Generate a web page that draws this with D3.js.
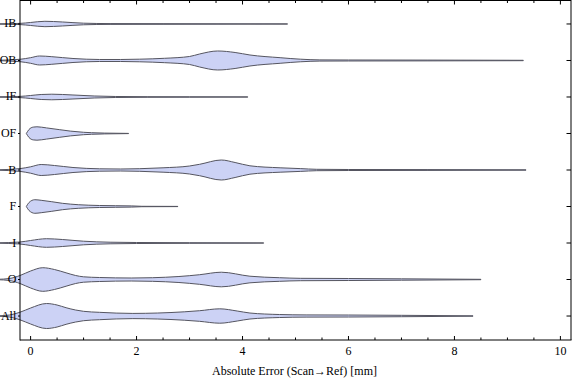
<!DOCTYPE html>
<html>
<head>
<meta charset="utf-8">
<script src="https://cdn.jsdelivr.net/npm/d3@7"></script>
<style>
  html, body { margin: 0; padding: 0; background: #fff; }
  svg { display: block; }
  text { font-family: "Liberation Serif", "Times New Roman", serif; font-size: 12px; fill: #000; }
</style>
</head>
<body>
<svg id="chart" width="576" height="381"></svg>
<script>
// ---- Data ----
const categories = ["IB", "OB", "IF", "OF", "B", "F", "I", "O", "All"];
const xTicks = [0, 2, 4, 6, 8, 10];
const xLabel = "Absolute Error (Scan\u2192Ref) [mm]";

// error values (mm) and estimated relative density for each violin
const IB_err  = [-0.62, -0.2, 0.0, 0.27, 0.6, 1.0, 1.5, 2.5, 3.5, 4.85];
const IB_dens = [0.02, 0.06, 0.15, 0.27, 0.2, 0.08, 0.04, 0.03, 0.02, 0.01];

const OB_err  = [-0.62, -0.2, 0.0, 0.17, 0.4, 0.8, 1.3, 1.7, 2.06, 2.53, 3.0, 3.19, 3.53, 3.86, 4.14, 4.71, 5.09, 5.46, 6.0, 7.5, 9.3];
const OB_dens = [0.02, 0.12, 0.28, 0.45, 0.38, 0.2, 0.1, 0.1, 0.13, 0.22, 0.4, 0.65, 0.95, 0.8, 0.55, 0.28, 0.13, 0.06, 0.05, 0.04, 0.02];

const IF_err  = [-0.62, -0.2, 0.0, 0.2, 0.4, 0.8, 1.2, 1.6, 2.2, 3.0, 4.1];
const IF_dens = [0.02, 0.06, 0.15, 0.25, 0.28, 0.2, 0.1, 0.05, 0.03, 0.02, 0.01];

const OF_err  = [-0.08, -0.03, 0.05, 0.12, 0.3, 0.55, 0.75, 1.0, 1.15, 1.4, 1.85];
const OF_dens = [0.0, 0.4, 0.64, 0.67, 0.56, 0.38, 0.24, 0.12, 0.08, 0.04, 0.01];

const B_err  = [-0.62, -0.2, 0.0, 0.2, 0.45, 0.8, 1.3, 1.7, 2.06, 2.5, 3.0, 3.19, 3.6, 3.86, 4.14, 4.71, 5.09, 5.4, 6.0, 7.5, 9.35];
const B_dens = [0.02, 0.14, 0.32, 0.55, 0.45, 0.25, 0.12, 0.1, 0.13, 0.22, 0.4, 0.57, 1.0, 0.75, 0.42, 0.22, 0.14, 0.07, 0.05, 0.04, 0.02];

const F_err  = [-0.08, -0.03, 0.08, 0.2, 0.4, 0.6, 0.9, 1.3, 1.9, 2.1, 2.78];
const F_dens = [0.0, 0.4, 0.68, 0.62, 0.48, 0.32, 0.18, 0.1, 0.06, 0.02, 0.01];

const I_err  = [-0.62, -0.2, 0.0, 0.3, 0.6, 1.0, 1.5, 2.0, 3.0, 4.4];
const I_dens = [0.02, 0.1, 0.25, 0.43, 0.35, 0.18, 0.08, 0.05, 0.03, 0.01];

const O_err  = [-0.62, -0.4, -0.2, 0.0, 0.23, 0.45, 0.67, 0.85, 1.0, 1.3, 1.9, 2.3, 2.8, 3.19, 3.6, 4.14, 4.7, 5.09, 6.0, 7.0, 8.5];
const O_dens = [0.02, 0.1, 0.4, 0.85, 1.18, 1.0, 0.67, 0.4, 0.27, 0.2, 0.15, 0.18, 0.3, 0.48, 0.73, 0.33, 0.18, 0.12, 0.1, 0.07, 0.02];

const All_err  = [-0.62, -0.4, -0.2, 0.0, 0.3, 0.5, 0.67, 0.85, 1.0, 1.3, 1.93, 2.4, 2.9, 3.19, 3.57, 3.9, 4.14, 4.7, 5.2, 6.0, 7.0, 8.35];
const All_dens = [0.02, 0.1, 0.38, 0.8, 1.25, 1.1, 0.83, 0.6, 0.47, 0.37, 0.26, 0.3, 0.42, 0.53, 0.72, 0.5, 0.3, 0.15, 0.11, 0.1, 0.07, 0.02];

const errs  = [IB_err, OB_err, IF_err, OF_err, B_err, F_err, I_err, O_err, All_err];
const denss = [IB_dens, OB_dens, IF_dens, OF_dens, B_dens, F_dens, I_dens, O_dens, All_dens];

// ---- Layout ----
const svg = d3.select("#chart");
const L = 20, R = 571, T = 0.5, Bm = 340;

const x = d3.scaleLinear().domain([-0.2, 10.2]).range([L, R]);
const y = d3.scalePoint().domain(categories).range([0, Bm]).padding(0.657);
const w = d3.scaleLinear().domain([0, 1]).range([0, 10]);

// violins
const area = d3.area()
  .x(d => x(d[0]))
  .curve(d3.curveMonotoneX);

categories.forEach((c, i) => {
  const pts = errs[i].map((v, j) => [v, denss[i][j]]);
  const yc = y(c);
  svg.append("path")
    .datum(pts)
    .attr("d", area.y0(d => yc - w(d[1])).y1(d => yc + w(d[1])))
    .attr("fill", "rgb(204,210,245)")
    .attr("stroke", "#555560")
    .attr("stroke-width", 1)
    .attr("stroke-linejoin", "round");
});

// frame
const frame = svg.append("g").attr("stroke", "#000").attr("fill", "none");
frame.append("line").attr("x1", L).attr("x2", R).attr("y1", T).attr("y2", T).attr("stroke", "#000");
frame.append("line").attr("x1", R).attr("x2", R).attr("y1", 0).attr("y2", Bm).attr("stroke", "#000");

// bottom axis
const minorTicks = d3.range(0, 10.01, 0.5);
const gx = svg.append("g").attr("transform", `translate(0,${Bm})`);
gx.append("line").attr("x1", L).attr("x2", R + 0.5).attr("stroke", "#000");
minorTicks.forEach(t => {
  const major = Math.abs(t % 2) < 1e-9;
  const len = major ? 4 : 2.5;
  gx.append("line").attr("x1", x(t)).attr("x2", x(t)).attr("y1", 0).attr("y2", -len).attr("stroke", "#000");
  svg.append("line").attr("x1", x(t)).attr("x2", x(t)).attr("y1", T).attr("y2", T + len).attr("stroke", "#000");
});
xTicks.forEach(t => {
  gx.append("text").attr("x", x(t)).attr("y", 14.5).attr("text-anchor", "middle").text(t);
});
svg.append("text").attr("x", (L + R) / 2 - 1).attr("y", 375).attr("text-anchor", "middle").text(xLabel);

// left axis
const gy = svg.append("g");
gy.append("line").attr("x1", L).attr("x2", L).attr("y1", 0).attr("y2", Bm + 0.5).attr("stroke", "#000");
categories.forEach(c => {
  gy.append("line").attr("x1", L - 2).attr("x2", L).attr("y1", y(c)).attr("y2", y(c)).attr("stroke", "#000");
  svg.append("line").attr("x1", R - 4.5).attr("x2", R).attr("y1", y(c)).attr("y2", y(c)).attr("stroke", "#000");
  gy.append("text").attr("x", 16.3).attr("y", y(c) + 3.5).attr("text-anchor", "end").text(c);
});
</script>
</body>
</html>
